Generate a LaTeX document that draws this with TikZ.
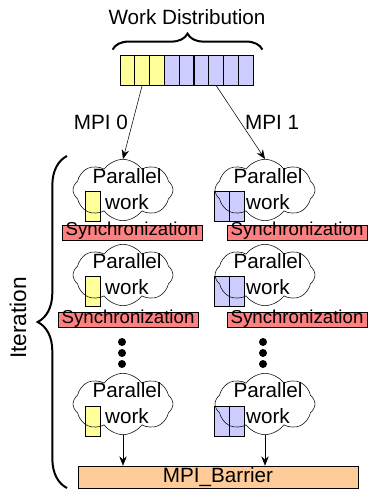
\documentclass[tikz,border=0pt]{standalone}
\usepackage{fontspec}
\setmainfont{Liberation Sans}
\usetikzlibrary{arrows.meta,shapes.symbols,decorations.pathreplacing}
\definecolor{workyellow}{RGB}{255,255,153}
\definecolor{workblue}{RGB}{204,204,255}
\definecolor{syncred}{RGB}{255,128,128}
\definecolor{barrierorange}{RGB}{255,204,153}
\tikzset{
	cell/.style={draw, semithick, minimum width=11.08pt, minimum height=22.5pt, inner sep=0pt},
	chunk/.style={draw, semithick, minimum width=11.25pt, minimum height=22.5pt, inner sep=0pt},
	puff/.style={draw, cloud, cloud puffs=8, cloud puff arc=110, cloud ignores aspect,
			minimum width=75pt, minimum height=46pt, inner sep=0pt},
	pwork/.style={align=center, font=\fontsize{15.5}{19.5}\selectfont},
	syncbar/.style={draw, fill=syncred, minimum width=105pt, inner xsep=0pt, inner ysep=0.75pt,
			text height=7.6pt, text depth=2.4pt, font=\fontsize{14}{14}\selectfont},
	arr/.style={-{Stealth[length=7pt,width=5.5pt]}},
	brc/.style={decorate, decoration={brace, amplitude=#1}, line width=1.5pt}
}

\begin{document}
\begin{tikzpicture}[x=0.75pt, y=-0.75pt, font=\fontsize{15.5}{18}\selectfont]
	\useasboundingbox (0,0) rectangle (368,492);

	% work distribution
	\node (dist) at (187,17) {Work Distribution};
	\foreach \i in {1,2,3}
		\node [cell, fill=workyellow] (w\i) at (112.61+14.78*\i, 70) {};
	\foreach \i in {4,...,9}
		\node [cell, fill=workblue] (w\i) at (112.61+14.78*\i, 70) {};
	\draw [brc=12pt] ([xshift=-5.25pt, yshift=3.75pt]w1.north west) to ([xshift=6.75pt, yshift=3.75pt]w9.north east);

	% chunks of each process
	\foreach \y in {206,291,421} {
		\node [chunk, fill=workyellow] at (92.5,\y) {};
		\node [chunk, fill=workblue] at (221.5,\y) {};
		\node [chunk, fill=workblue] at (236.5,\y) {};
	}

	% parallel work
	\foreach \r/\cy in {1/190, 2/275, 3/404} {
		\node [puff] (pa\r) at (123,\cy) {};
		\node [puff] (pb\r) at (265,\cy) {};
		\node [pwork] (ta\r) at (127,\cy-1) {Parallel\\work};
		\node [pwork] (tb\r) at (268,\cy-1) {Parallel\\work};
	}

	\node [syncbar] (sa1) at (132,232.5) {Synchronization};
	\node [syncbar] (sb1) at (297,232.5) {Synchronization};
	\node [syncbar] (sa2) at (128,320) {Synchronization};
	\node [syncbar] (sb2) at (297,320) {Synchronization};

	\foreach \y in {342,353,364} {
		\fill (122,\y) circle (3pt);
		\fill (263,\y) circle (3pt);
	}

	\node [draw, fill=barrierorange, minimum width=210pt, minimum height=16.5pt, inner sep=0pt] (bar) at (218,477) {MPI\_Barrier};

	\draw [arr] (w2.south) to node [left] {MPI 0} (pa1.north);
	\draw [arr] (w7.south) to node [right] {MPI 1} (pb1.north);
	\draw [arr] (pa3.south) to (pa3.south |- bar.north);
	\draw [arr] (pb3.south) to (pb3.south |- bar.north);

	% iteration
	\draw [brc=22pt] (67,488) to (67,156);
	\node [rotate=90, font=\fontsize{17}{17}\selectfont] (iter) at (18,318) {Iteration};
\end{tikzpicture}
\end{document}
